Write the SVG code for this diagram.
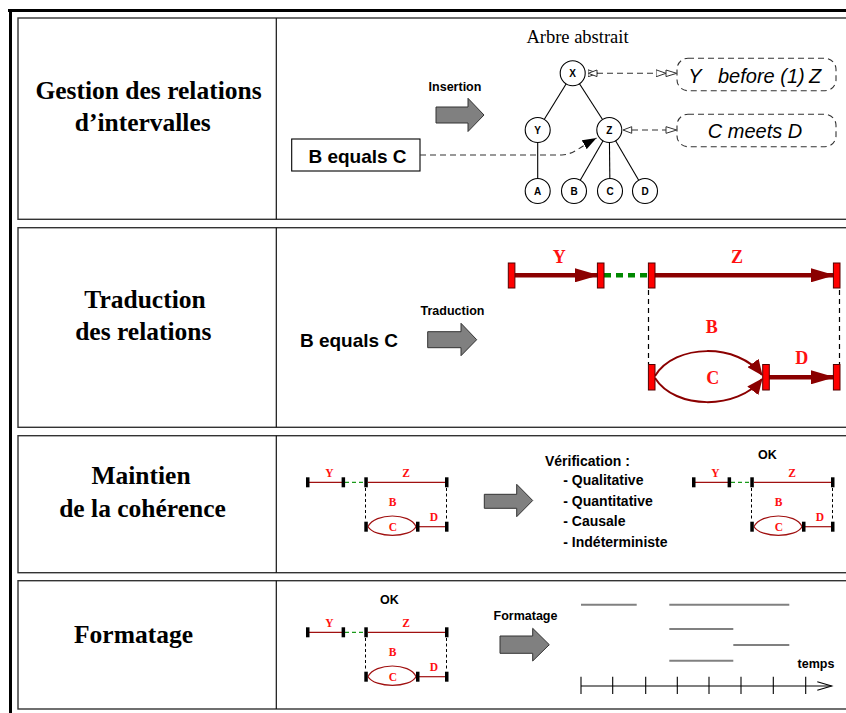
<svg xmlns="http://www.w3.org/2000/svg" xmlns:xlink="http://www.w3.org/1999/xlink" width="846" height="713" viewBox="0 0 846 713">
<style>
.panel{fill:#fff;stroke:#333;stroke-width:1.4}
.div{stroke:#111;stroke-width:1.2}
.title{font-family:"Liberation Serif","Times New Roman",serif;font-weight:bold;font-size:25.5px;fill:#000;text-anchor:middle}
.sans{font-family:"Liberation Sans",Arial,sans-serif;font-weight:bold;fill:#000}
.lbl{font-size:12.5px;text-anchor:middle}
.node circle{fill:#fff;stroke:#000;stroke-width:1.1}
.node text{font-family:"Liberation Sans",Arial,sans-serif;font-weight:bold;font-size:10px;text-anchor:middle}
.tree{stroke:#000;stroke-width:1.1}
.dash{fill:none;stroke:#333;stroke-width:1.1;stroke-dasharray:6 4}
.ital{font-family:"Liberation Sans",Arial,sans-serif;font-style:italic;font-size:20px;fill:#000}
.barrow{fill:#808080;stroke:#333;stroke-width:1}
.red{font-family:"Liberation Serif","Times New Roman",serif;font-weight:bold;fill:#ff1010;text-anchor:middle}
.rtick{fill:#ff0000;stroke:#550000;stroke-width:1}
.thick{stroke:#8b0000;stroke-width:4.5;fill:none}
.thin{stroke:#8b0000;stroke-width:2;fill:none}
.btick{fill:#000}
.sline{stroke:#a01010;stroke-width:1.2;fill:none}
.gray{stroke:#808080;stroke-width:2}
</style>
<defs>
<marker id="openTri" viewBox="0 0 10 8" refX="10" refY="4" markerWidth="10" markerHeight="8" markerUnits="userSpaceOnUse" orient="auto">
<path d="M0,0.5 L10,4 L0,7.5 Z" fill="#fff" stroke="#333" stroke-width="1"/>
</marker>
<marker id="fillTri" viewBox="0 0 14 10" refX="14" refY="5" markerWidth="14" markerHeight="10" markerUnits="userSpaceOnUse" orient="auto">
<path d="M0,0 L14,5 L0,10 Z" fill="#000"/>
</marker>
<marker id="redHead" viewBox="0 0 24 14" refX="23" refY="7" markerWidth="24" markerHeight="14" markerUnits="userSpaceOnUse" orient="auto">
<path d="M0,0 L24,7 L0,14 Z" fill="#8b0000"/>
</marker>
<marker id="redHead2" viewBox="0 0 16 14" refX="15" refY="7" markerWidth="16" markerHeight="14" markerUnits="userSpaceOnUse" orient="auto">
<path d="M0,0 L16,7 L0,14 Z" fill="#8b0000"/>
</marker>
<g id="mini">
<line class="sline" x1="309" y1="482.3" x2="342" y2="482.3"/>
<line x1="345" y1="482.3" x2="364" y2="482.3" stroke="#1a9a1a" stroke-width="1.2" stroke-dasharray="4 3"/>
<line class="sline" x1="368" y1="482.3" x2="445" y2="482.3"/>
<line x1="365.5" y1="488" x2="365.5" y2="521" stroke="#000" stroke-width="1" stroke-dasharray="3 2.5"/>
<line x1="446.5" y1="488" x2="446.5" y2="521" stroke="#000" stroke-width="1" stroke-dasharray="3 2.5"/>
<path class="sline" d="M368,526.7 C375,512.4 410,512.4 416,526.7"/>
<path class="sline" d="M368,526.7 C375,538.2 410,538.2 416,526.7"/>
<line class="sline" x1="419" y1="526.7" x2="445" y2="526.7"/>
<rect class="btick" x="306" y="477.3" width="3.5" height="10"/>
<rect class="btick" x="341.6" y="477.3" width="3.5" height="10"/>
<rect class="btick" x="364.3" y="477.3" width="3.5" height="10"/>
<rect class="btick" x="445" y="477.3" width="3.5" height="10"/>
<rect class="btick" x="364.3" y="521.7" width="3.5" height="10"/>
<rect class="btick" x="416" y="521.7" width="3.5" height="10"/>
<rect class="btick" x="445" y="521.7" width="3.5" height="10"/>
<text class="red" font-size="11.5" x="329.3" y="476.7">Y</text>
<text class="red" font-size="11.5" x="406" y="476.7">Z</text>
<text class="red" font-size="11.5" x="392.7" y="506">B</text>
<text class="red" font-size="11.5" x="393" y="530.5">C</text>
<text class="red" font-size="11.5" x="434" y="520.7">D</text>
</g>
</defs>

<rect width="846" height="713" fill="#fff"/>

<!-- outer frame -->
<g id="frame">
<line x1="8" y1="10.5" x2="850" y2="10.5" stroke="#000" stroke-width="3"/>
<line x1="10.5" y1="9" x2="10.5" y2="713" stroke="#000" stroke-width="3"/>
</g>

<!-- panels -->
<g id="panels">
<rect class="panel" x="18" y="18" width="840" height="201.3"/>
<rect class="panel" x="18" y="227.7" width="840" height="199.6"/>
<rect class="panel" x="18" y="435.7" width="840" height="137"/>
<rect class="panel" x="18" y="580.7" width="840" height="128.3"/>
<line class="div" x1="276.3" y1="18" x2="276.3" y2="219.3"/>
<line class="div" x1="276.3" y1="227.7" x2="276.3" y2="427.3"/>
<line class="div" x1="276.3" y1="435.7" x2="276.3" y2="572.7"/>
<line class="div" x1="276.3" y1="580.7" x2="276.3" y2="709"/>
</g>

<g id="titles">
<text class="title" x="148.5" y="99.3">Gestion des relations</text>
<text class="title" x="142.7" y="131">d’intervalles</text>
<text class="title" x="145" y="308.3">Traduction</text>
<text class="title" x="143.3" y="340">des relations</text>
<text class="title" x="141" y="484.3">Maintien</text>
<text class="title" x="142.5" y="516.7">de la cohérence</text>
<text class="title" x="133.5" y="643.3">Formatage</text>
</g>

<!-- Row 1 -->
<g id="row1">
<text x="577.5" y="43" font-family="Liberation Serif,Times New Roman,serif" font-size="18.5" text-anchor="middle" fill="#000">Arbre abstrait</text>
<text class="sans lbl" x="455" y="90.7">Insertion</text>
<polygon class="barrow" points="436,107 468,107 468,98.3 484,115 468,131.5 468,123 436,123"/>
<g id="box-bequalsc">
<rect x="291.7" y="139" width="128.3" height="32" fill="#fff" stroke="#000" stroke-width="1.1"/>
<text class="sans" x="357.5" y="163" font-size="19" text-anchor="middle">B equals C</text>
</g>
<g id="connectors1">
<line class="tree" x1="572.7" y1="73.3" x2="537.7" y2="130"/>
<line class="tree" x1="572.7" y1="73.3" x2="609.3" y2="130"/>
<line class="tree" x1="537.7" y1="130" x2="537.7" y2="191"/>
<line class="tree" x1="609.3" y1="130" x2="574" y2="191"/>
<line class="tree" x1="609.3" y1="130" x2="610" y2="191"/>
<line class="tree" x1="609.3" y1="130" x2="645" y2="191"/>
<path class="dash" d="M420,155 L562,155 C572,155 582,146 596.5,138" marker-end="url(#fillTri)"/>
<path class="dash" d="M597,73.3 L666,73.3"/>
<path d="M598,73.3 L666,73.3" fill="none" marker-start="url(#openTri)" marker-end="url(#openTri)" stroke="none"/>
<polygon points="588.3,73.3 597,70 597,76.6" fill="#fff" stroke="#333" stroke-width="1"/>
<polygon points="676.7,73.3 666,70 666,76.6" fill="#fff" stroke="#333" stroke-width="1"/>
<path class="dash" d="M632,130 L666,130"/>
<polygon points="623,130 631.7,126.7 631.7,133.3" fill="#fff" stroke="#333" stroke-width="1"/>
<polygon points="676.7,130 666,126.7 666,133.3" fill="#fff" stroke="#333" stroke-width="1"/>
</g>
<g id="node-X" class="node"><circle cx="572.7" cy="73.3" r="12.5"/><text x="572.7" y="77">X</text></g>
<g id="node-Y" class="node"><circle cx="537.7" cy="130" r="12.5"/><text x="537.7" y="133.7">Y</text></g>
<g id="node-Z" class="node"><circle cx="609.3" cy="130" r="12.5"/><text x="609.3" y="133.7">Z</text></g>
<g id="node-A" class="node"><circle cx="537.7" cy="191" r="12.5"/><text x="537.7" y="194.7">A</text></g>
<g id="node-B" class="node"><circle cx="574" cy="191" r="12.5"/><text x="574" y="194.7">B</text></g>
<g id="node-C" class="node"><circle cx="610" cy="191" r="12.5"/><text x="610" y="194.7">C</text></g>
<g id="node-D" class="node"><circle cx="645" cy="191" r="12.5"/><text x="645" y="194.7">D</text></g>
<g id="rel1">
<rect class="dash" x="677" y="58.3" width="159" height="32.4" rx="11"/>
<text class="ital" x="688.3" y="83.3">Y</text>
<text class="ital" x="718" y="83.3">before (1)</text>
<text class="ital" x="809" y="83.3">Z</text>
</g>
<g id="rel2">
<rect class="dash" x="677" y="114.3" width="159" height="32.4" rx="11"/>
<text class="ital" x="755" y="138.3" font-size="19.5" text-anchor="middle">C meets D</text>
</g>
</g>

<!-- Row 2 -->
<g id="row2">
<text class="sans" x="349" y="347.3" font-size="19" text-anchor="middle">B equals C</text>
<text class="sans lbl" x="452.5" y="315">Traduction</text>
<polygon class="barrow" points="427.7,331.7 461,331.7 461,323.3 476.7,339.7 461,355.7 461,347.7 427.7,347.7"/>
<line x1="604" y1="275.3" x2="648" y2="275.3" stroke="#008800" stroke-width="4.5" stroke-dasharray="7 5"/>
<line class="thick" x1="515" y1="275.3" x2="598" y2="275.3" marker-end="url(#redHead)"/>
<line class="thick" x1="655" y1="275.3" x2="834" y2="275.3" marker-end="url(#redHead)"/>
<line x1="648.5" y1="290" x2="648.5" y2="364" stroke="#000" stroke-width="1.2" stroke-dasharray="5 4"/>
<line x1="839.5" y1="290" x2="839.5" y2="364" stroke="#000" stroke-width="1.2" stroke-dasharray="5 4"/>
<path class="thin" d="M655,376 C675,343 738,343 762,375" marker-end="url(#redHead2)"/>
<path class="thin" d="M655,378 C675,410 738,410 762,379" marker-end="url(#redHead2)"/>
<line class="thick" x1="769" y1="377.3" x2="834" y2="377.3" marker-end="url(#redHead)"/>
<rect class="rtick" x="508.3" y="263" width="6.6" height="25"/>
<rect class="rtick" x="597.4" y="263" width="6.6" height="25"/>
<rect class="rtick" x="648.4" y="263" width="6.6" height="25"/>
<rect class="rtick" x="833.4" y="263" width="6.6" height="25"/>
<rect class="rtick" x="648.4" y="364.5" width="6.6" height="25.5"/>
<rect class="rtick" x="762.7" y="364.5" width="6.6" height="25.5"/>
<rect class="rtick" x="833.4" y="364.5" width="6.6" height="25.5"/>
<text class="red" font-size="18" x="559.3" y="263">Y</text>
<text class="red" font-size="18" x="737" y="263">Z</text>
<text class="red" font-size="18" x="711.7" y="333">B</text>
<text class="red" font-size="18" x="712.7" y="383.5">C</text>
<text class="red" font-size="18" x="801.7" y="364">D</text>
</g>

<!-- Row 3 -->
<g id="row3">
<use xlink:href="#mini" href="#mini"/>
<polygon class="barrow" points="484.3,494.3 516.7,494.3 516.7,484.3 532.7,500.5 516.7,516.7 516.7,508.3 484.3,508.3"/>
<text class="sans" x="545" y="465.7" font-size="14">Vérification :</text>
<text class="sans" x="563.3" y="485" font-size="14">- Qualitative</text>
<text class="sans" x="563.3" y="505.7" font-size="14">- Quantitative</text>
<text class="sans" x="563.3" y="526.3" font-size="14">- Causale</text>
<text class="sans" x="563.3" y="546.7" font-size="14">- Indéterministe</text>
<text class="sans lbl" x="767.3" y="459.3">OK</text>
<use xlink:href="#mini" href="#mini" transform="translate(386,0)"/>
</g>

<!-- Row 4 -->
<g id="row4">
<text class="sans lbl" x="389.3" y="604.3">OK</text>
<use xlink:href="#mini" href="#mini" transform="translate(0,150)"/>
<text class="sans lbl" x="525.5" y="620">Formatage</text>
<polygon class="barrow" points="500,636 532.7,636 532.7,628.3 549.3,644.7 532.7,661 532.7,653.3 500,653.3"/>
<line class="gray" x1="581" y1="604.7" x2="636.7" y2="604.7"/>
<line class="gray" x1="669.3" y1="604.7" x2="789.3" y2="604.7"/>
<line class="gray" x1="669.3" y1="629" x2="733.3" y2="629"/>
<line class="gray" x1="733.3" y1="645" x2="789.3" y2="645"/>
<line class="gray" x1="669.3" y1="660.7" x2="733.3" y2="660.7"/>
<text class="sans lbl" x="816" y="668.3">temps</text>
<g stroke="#000" stroke-width="1.1" fill="none">
<line x1="581" y1="686" x2="831.5" y2="686"/>
<polyline points="817.3,681.7 831.7,686 817.3,690.3"/>
<line x1="581" y1="676.7" x2="581" y2="694"/>
<line x1="612.7" y1="676.7" x2="612.7" y2="694"/>
<line x1="645.7" y1="676.7" x2="645.7" y2="694"/>
<line x1="677.3" y1="676.7" x2="677.3" y2="694"/>
<line x1="709" y1="676.7" x2="709" y2="694"/>
<line x1="741" y1="676.7" x2="741" y2="694"/>
<line x1="773.3" y1="676.7" x2="773.3" y2="694"/>
<line x1="805.7" y1="676.7" x2="805.7" y2="694"/>
</g>
</g>
</svg>
